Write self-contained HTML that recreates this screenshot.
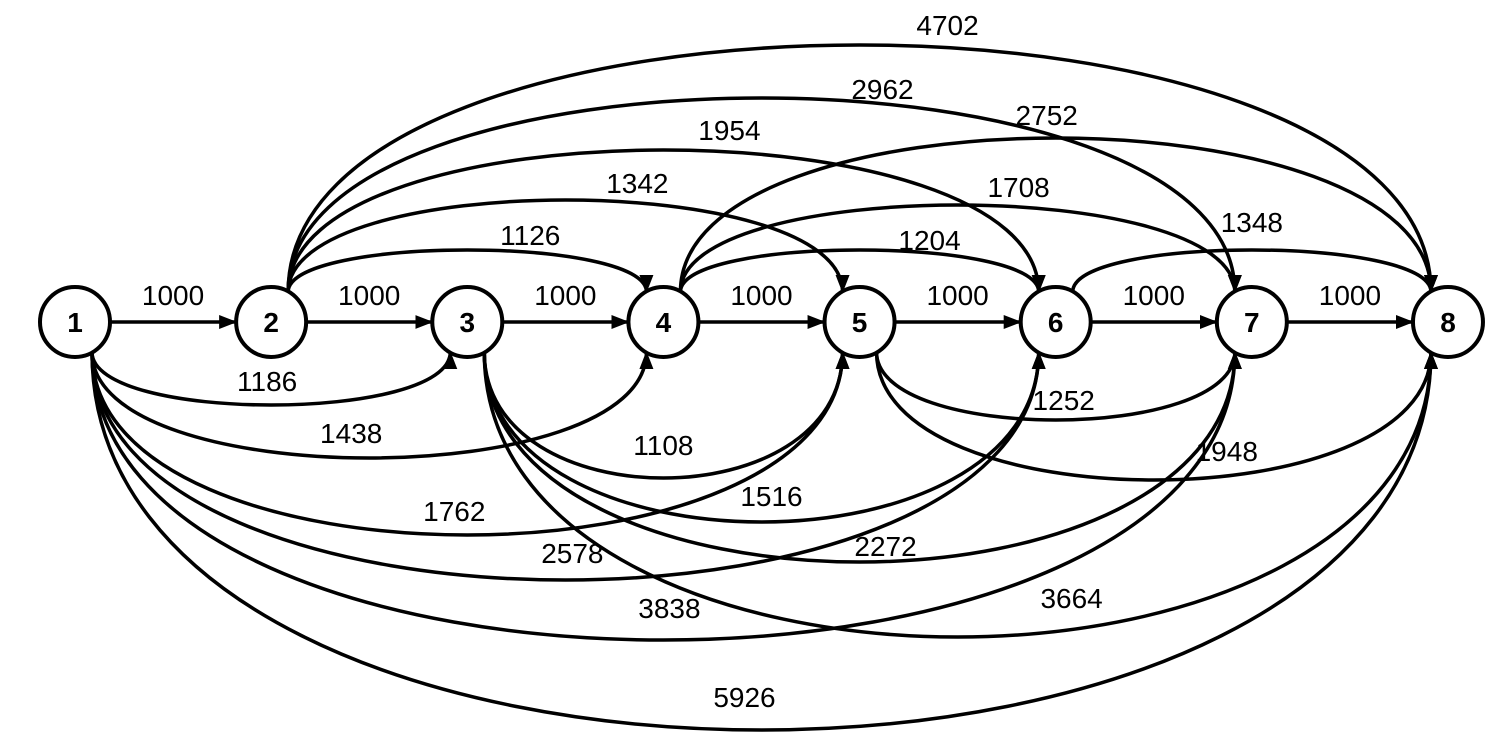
<!DOCTYPE html>
<html><head><meta charset="utf-8"><style>
html,body{margin:0;padding:0;background:#fff}
svg{display:block}
text{font-family:"Liberation Sans",sans-serif;fill:#000}
</style></head><body>
<svg id="g" width="1493" height="756" viewBox="0 0 1493 756">
<defs>
<marker id="arr" markerUnits="userSpaceOnUse" markerWidth="20" markerHeight="16" refX="17" refY="8" orient="auto">
<path d="M0,1 L18,8 L0,15 Z" fill="#000"/>
</marker>
</defs>
</svg>
<script>
// data
const nodeIds=[1,2,3,4,5,6,7,8];
const edgeFrom=[1,2,3,4,5,6,7, 2,2,2,2,2, 4,4,4, 6, 1,1,1,1,1,1, 3,3,3,3, 5,5];
const edgeTo  =[2,3,4,5,6,7,8, 4,5,6,7,8, 6,7,8, 8, 3,4,5,6,7,8, 5,6,7,8, 7,8];
const edgeWeight=[1000,1000,1000,1000,1000,1000,1000, 1126,1342,1954,2962,4702, 1204,1708,2752, 1348, 1186,1438,1762,2578,3838,5926, 1108,1516,2272,3664, 1252,1948];
// layout (not data)
const arcExtreme=[0,0,0,0,0,0,0, 250,200,150,98,45, 250,205,138, 250, 405,458,535,580,640,730, 478,522,562,637, 420,480];
const labelDx=[0,0,0,0,0,0,0, 63,72,66,121,88, 70,61,-9, 0, -4,-18,-13,7,6,-17, 0,10,26,114, 8,73];
const labelDy=[0,0,0,0,0,0,0, -15,-17,-20,-9,-20, -10,-18,-23, -28, -24,-25,-24,-27,-32,-33, -33,-26,-16,-39, -20,-29];

const svg=document.getElementById('g');
const NS='http://www.w3.org/2000/svg';
const cy=322, R=35;
function nx(id){return 75+(id-1)*196.14;}

for(let i=0;i<edgeFrom.length;i++){
  const a=edgeFrom[i], b=edgeTo[i];
  const sx=nx(a), tx=nx(b);
  const p=document.createElementNS(NS,'path');
  let lx,ly;
  if(b===a+1){
    p.setAttribute('d',`M${sx+R},${cy} L${tx-R},${cy}`);
    lx=(sx+tx)/2; ly=cy-17;
  } else {
    const up=arcExtreme[i]<cy;
    const ey=up?cy-30:cy+30;
    const x0=sx+17, x1=tx-17;
    const c=(arcExtreme[i]-0.25*ey)/0.75;
    p.setAttribute('d',`M${x0},${ey} C${x0},${c} ${x1},${c} ${x1},${ey}`);
    lx=(sx+tx)/2+labelDx[i]; ly=arcExtreme[i]+labelDy[i]+10;
  }
  p.setAttribute('fill','none');
  p.setAttribute('stroke','#000');
  p.setAttribute('stroke-width','3.5');
  p.setAttribute('marker-end','url(#arr)');
  
  
  svg.appendChild(p);
  const t=document.createElementNS(NS,'text');
  t.setAttribute('x',lx); t.setAttribute('y',ly);
  t.setAttribute('text-anchor','middle');
  t.setAttribute('font-size','28');
  t.textContent=edgeWeight[i];
  
  
  svg.appendChild(t);
}
for(const id of nodeIds){
  const g=document.createElementNS(NS,'g');
  
  
  const c=document.createElementNS(NS,'circle');
  c.setAttribute('cx',nx(id)); c.setAttribute('cy',cy); c.setAttribute('r',R);
  c.setAttribute('fill','#fff'); c.setAttribute('stroke','#000'); c.setAttribute('stroke-width','4');
  g.appendChild(c);
  const t=document.createElementNS(NS,'text');
  t.setAttribute('x',nx(id)); t.setAttribute('y',cy+10);
  t.setAttribute('text-anchor','middle'); t.setAttribute('font-size','28'); t.setAttribute('font-weight','bold');
  t.textContent=id;
  g.appendChild(t);
  svg.appendChild(g);
}
</script>
</body></html>
